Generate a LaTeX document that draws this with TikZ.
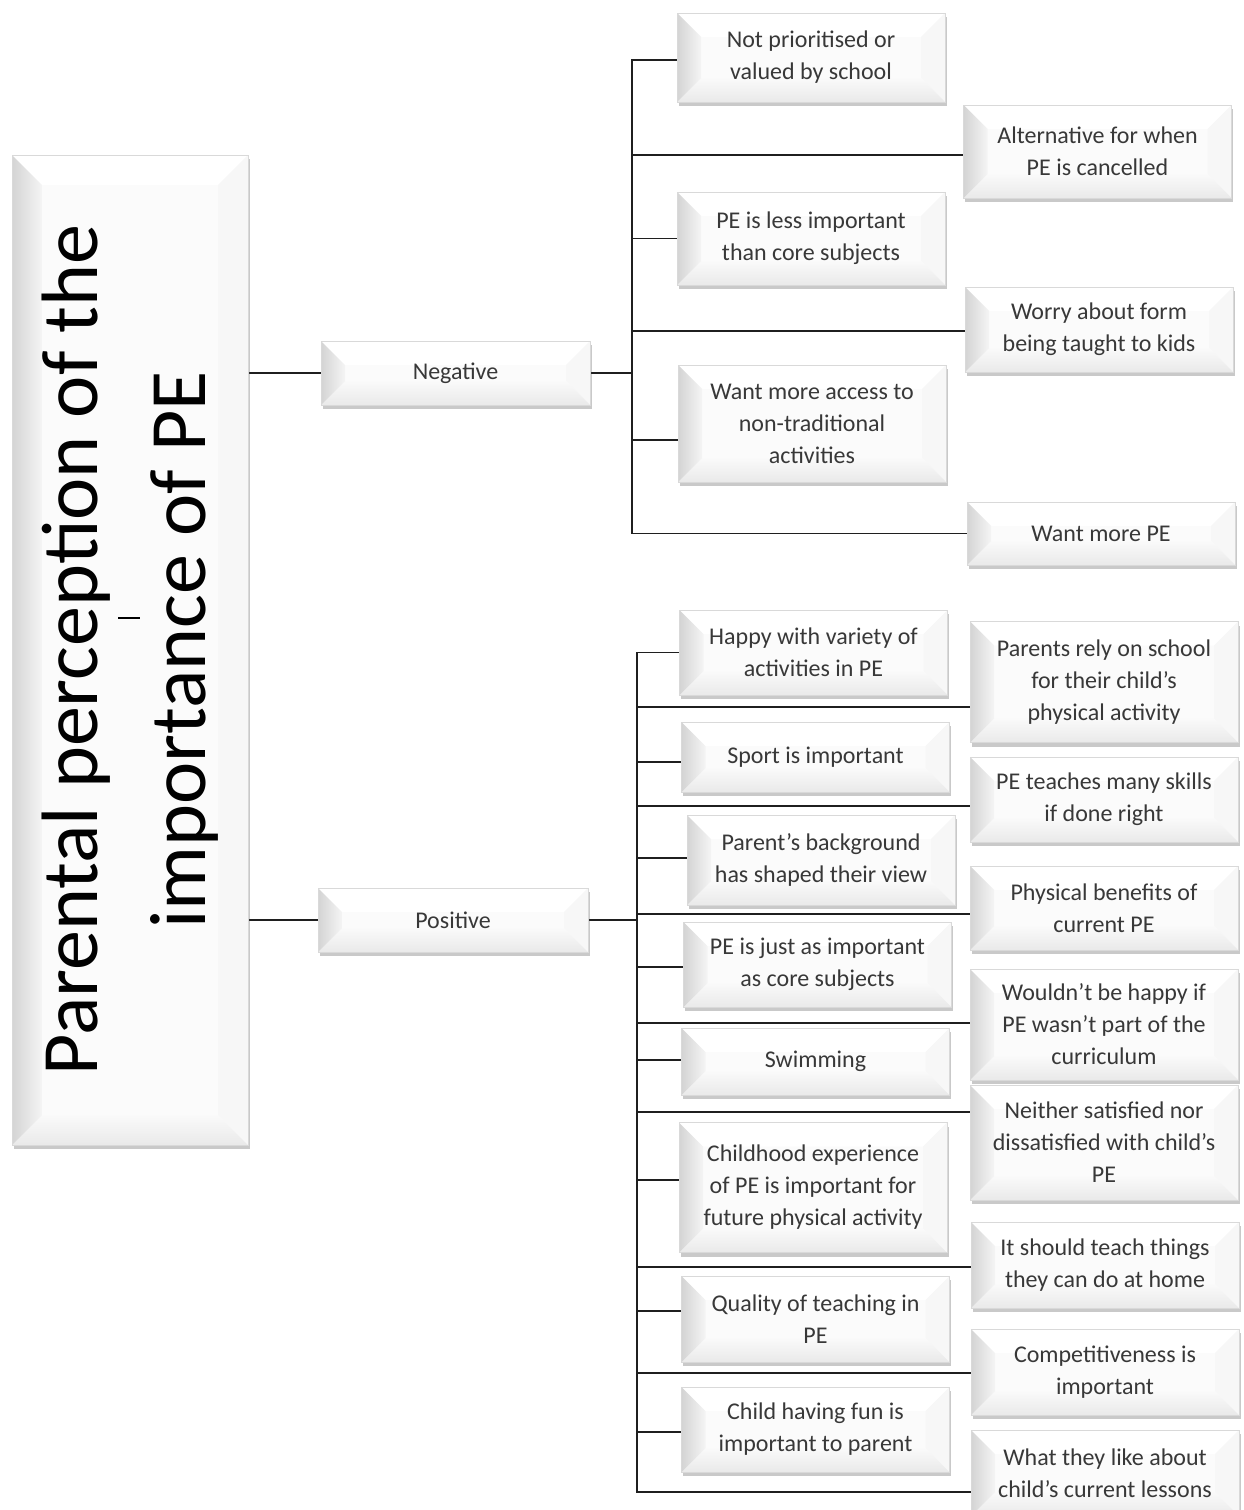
\documentclass[tikz,border=0pt]{standalone}
\usepackage{fontspec}
\setmainfont{Carlito}
\usetikzlibrary{calc,shadows,backgrounds}

\tikzset{
  x=1pt, y=-1pt,
  bvsize/.code={\def\bvsz{#1}},
  bvsize=24pt,
  % bevelled box: light face, darker left and bottom bevels, soft drop shadow
  bev/.style={draw=gray!30, line width=0.5pt, fill=gray!3, inner sep=0pt,
    align=center, text=black!78, font=\fontsize{24}{32}\selectfont,
    drop shadow={shadow xshift=1.5pt, shadow yshift=-4pt, opacity=0.3, fill=black!70},
    path picture={
      \coordinate (bvA) at (path picture bounding box.south west);
      \coordinate (bvB) at (path picture bounding box.north west);
      \coordinate (bvC) at (path picture bounding box.north east);
      \coordinate (bvD) at (path picture bounding box.south east);
      \fill[white] (bvB) -- (bvC) -- ($(bvC)+(-\bvsz,-\bvsz)$) -- ($(bvB)+(\bvsz,-\bvsz)$) -- cycle;
      \fill[gray!6] (bvD) -- (bvC) -- ($(bvC)+(-\bvsz,-\bvsz)$) -- ($(bvD)+(-\bvsz,\bvsz)$) -- cycle;
      \shade[top color=gray!4, bottom color=gray!17] (bvA) -- ($(bvA)+(\bvsz,\bvsz)$) -- ($(bvD)+(-\bvsz,\bvsz)$) -- (bvD) -- cycle;
      \shade[left color=gray!34, right color=gray!8] (bvA) -- (bvB) -- ($(bvB)+(\bvsz,-\bvsz)$) -- ($(bvA)+(\bvsz,\bvsz)$) -- cycle;
    }},
  leaf/.style={bev, minimum width=268pt},
  link/.style={line width=1.6pt, black!88}
}

\begin{document}
\begin{tikzpicture}
\useasboundingbox (0,0) rectangle (1243,1510);

% root
\node[bev, bvsize=30pt, minimum width=236pt, minimum height=990pt, text=black] (main) at (130,650)
  {\rotatebox{90}{\fontsize{80}{108}\selectfont\begin{tabular}{@{}c@{}}Parental perception of the\\importance of PE\end{tabular}}};
\draw[line width=1.2pt] (118,618) -- (140,618);

% second level
\node[bev, minimum width=269pt, minimum height=64pt] (neg) at (455.5,373) {Negative};
\node[bev, minimum width=270pt, minimum height=64pt] (pos) at (453,920) {Positive};

% negative themes
\node[leaf, minimum height=89pt]  (n1) at (811,57.5)    {Not prioritised or\\valued by school};
\node[leaf, minimum height=93pt]  (n2) at (1097.5,151.5) {Alternative for when\\PE is cancelled};
\node[leaf, minimum height=93pt]  (n3) at (811,238.5)   {PE is less important\\than core subjects};
\node[leaf, minimum height=85pt]  (n4) at (1099,329.5)  {Worry about form\\being taught to kids};
\node[leaf, minimum height=117pt] (n5) at (812,423.5)   {Want more access to\\non-traditional\\activities};
\node[leaf, minimum height=63pt]  (n6) at (1101,533.5)  {Want more PE};

% positive themes, inner column
\node[leaf, minimum height=85pt]  (pa) at (813.5,652.5)  {Happy with variety of\\activities in PE};
\node[leaf, minimum height=70pt]  (pb) at (815.5,757)    {Sport is important};
\node[leaf, minimum height=90pt]  (pc) at (821,860)      {Parent’s background\\has shaped their view};
\node[leaf, minimum height=85pt]  (pd) at (817.5,964.5)  {PE is just as important\\as core subjects};
\node[leaf, minimum height=67pt]  (pe) at (815.5,1061.5) {Swimming};
\node[leaf, minimum height=130pt] (pf) at (813,1187.5)   {Childhood experience\\of PE is important for\\future physical activity};
\node[leaf, minimum height=86pt]  (pg) at (815.5,1319)   {Quality of teaching in\\PE};
\node[leaf, minimum height=85pt]  (ph) at (815.5,1429.5) {Child having fun is\\important to parent};

% positive themes, outer column
\node[leaf, minimum height=121pt] (ra) at (1104,682)    {Parents rely on school\\for their child’s\\physical activity};
\node[leaf, minimum height=85pt]  (rb) at (1104,799.5)  {PE teaches many skills\\if done right};
\node[leaf, minimum height=84pt]  (rc) at (1104,908)    {Physical benefits of\\current PE};
\node[leaf, minimum height=111pt] (rd) at (1104,1024.5) {Wouldn’t be happy if\\PE wasn’t part of the\\curriculum};
\node[leaf, minimum height=115pt] (re) at (1104,1142.5) {Neither satisfied nor\\dissatisfied with child’s\\PE};
\node[leaf, minimum height=86pt]  (rf) at (1105,1265)   {It should teach things\\they can do at home};
\node[leaf, minimum height=86pt]  (rg) at (1105,1372)   {Competitiveness is\\important};
\node[leaf, minimum height=86pt]  (rh) at (1105,1473)   {What they like about\\child’s current lessons};

% connectors
\begin{scope}[on background layer]
  \draw[link] (main.east |- neg.west) -- (neg.west);
  \draw[link] (main.east |- pos.west) -- (pos.west);
  \foreach \n/\s in {n1/-2.5, n2/-3.5, n3/0, n4/-1.5, n5/-16.5, n6/0}
    \draw[link] (neg.east) -- ++(42,0) |- ([yshift=\s pt]\n.west);
  \foreach \n/\s in {pa/0, pb/-5, pc/2, pd/-2.5, pe/1.5, pf/7.5, pg/8, ph/-2.5,
                     ra/-25, rb/-6.5, rc/-6, rd/1.5, re/30.5, rf/-2, rg/-1, rh/-19}
    \draw[link] (pos.east) -- ++(49,0) |- ([yshift=\s pt]\n.west);
\end{scope}
\end{tikzpicture}
\end{document}
